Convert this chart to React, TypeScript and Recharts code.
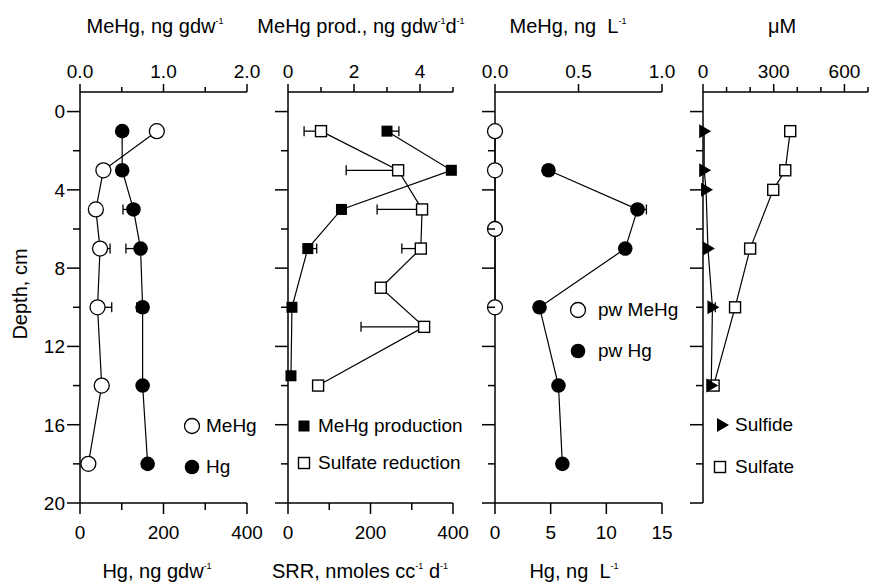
import React from "react";
import { ScatterChart, Scatter, XAxis, YAxis, ErrorBar } from "recharts";

const FONT = '"Liberation Sans", Arial, Helvetica, sans-serif';
const H = 585;

// depth axis (shared)
const depthTicks = [0, 2, 4, 6, 8, 10, 12, 14, 16, 18, 20];

// panel 1: sediment MeHg (top axis) / Hg (bottom axis)
const sedDepth = [1, 3, 5, 7, 10, 14, 18];
const sedMeHg = [0.92, 0.28, 0.19, 0.24, 0.21, 0.26, 0.1];
const sedMeHgErr = [null, null, null, [0, 0.12], [0, 0.17], null, null];
const sedHg = [101, 101, 128, 145, 150, 150, 162];
const sedHgErr = [null, null, [25, 0], [35, 0], [14, 0], null, null];

// panel 2: MeHg production (top) / sulfate reduction rate (bottom)
const prodDepth = [1, 3, 5, 7, 10, 13.5];
const prodVals = [3.0, 4.95, 1.62, 0.6, 0.12, 0.09];
const prodErr = [[0, 0.36], null, null, [0, 0.27], null, null];
const srrDepth = [1, 3, 5, 7, 9, 11, 14];
const srrVals = [80, 267, 325, 322, 225, 330, 73];
const srrErr = [[41, 0], [126, 0], [109, 0], [46, 0], null, [153, 0], null];

// panel 3: porewater MeHg (top) / Hg (bottom)
const pwMeDepth = [1, 3, 6, 10];
const pwMeVals = [0, 0, 0, 0];
const pwHgDepth = [3, 5, 7, 10, 14, 18];
const pwHgVals = [4.8, 12.8, 11.7, 4.0, 5.7, 6.05];
const pwHgErr = [null, [0, 0.8], null, null, null, null];

// panel 4: sulfide / sulfate, uM (top)
const sulfDepth = [1, 3, 4, 7, 10, 14];
const sulfideVals = [5, 5, 13, 21, 40, 35];
const sulfideErr = [null, null, null, null, [12, 12], null];
const sulfateVals = [370, 349, 298, 200, 136, 45];

// axis ticks
const p1TopTicks = [0, 0.5, 1, 1.5, 2];
const p1TopMajor = [0, 1, 2];
const sedBotTicks = [0, 100, 200, 300, 400];
const sedBotMajor = [0, 200, 400];
const p2TopTicks = [0, 1, 2, 3, 4, 5];
const p2TopMajor = [0, 2, 4];
const p3TopTicks = [0, 0.5, 1];
const p3BotTicks = [0, 5, 10, 15];
const p4TopTicks = [0, 100, 200, 300, 400, 500, 600, 700];
const p4TopMajor = [0, 300, 600];

const pts = (depth: number[], vals: number[], errs?: any[]) =>
  depth.map((d, i) => ({ d, x: vals[i], err: errs ? errs[i] : null }));

const txt = { fontFamily: FONT, fontSize: 19, fill: "#000" };
const axisLine = { stroke: "#000", strokeWidth: 1.5 };

const leftTick = (labels: boolean) => (p: any) => {
  const v = p.payload.value;
  const major = v % 4 === 0;
  const len = major ? 13 : 7;
  return (
    <g>
      <line x1={p.x - len} x2={p.x} y1={p.y} y2={p.y} stroke="#000" strokeWidth={1.5} />
      {labels && major && (
        <text x={p.x - 15} y={p.y} dy="0.36em" textAnchor="end" {...txt}>
          {v}
        </text>
      )}
    </g>
  );
};

const topTick = (major: number[], fmt: (v: number) => string) => (p: any) => {
  const v = p.payload.value;
  const isMajor = major.includes(v);
  const len = isMajor ? 8 : 5;
  return (
    <g>
      <line x1={p.x} x2={p.x} y1={p.y - len} y2={p.y} stroke="#000" strokeWidth={1.5} />
      {isMajor && (
        <text x={p.x} y={p.y - 14} textAnchor="middle" {...txt}>
          {fmt(v)}
        </text>
      )}
    </g>
  );
};

const botTick = (major: number[]) => (p: any) => {
  const v = p.payload.value;
  const isMajor = major.includes(v);
  const len = isMajor ? 11 : 7;
  return (
    <g>
      <line x1={p.x} x2={p.x} y1={p.y} y2={p.y + len} stroke="#000" strokeWidth={1.5} />
      {isMajor && (
        <text x={p.x} y={p.y + 36} textAnchor="middle" {...txt}>
          {v}
        </text>
      )}
    </g>
  );
};

// marker shapes
const OpenCircle = (p: any) => (
  <circle cx={p.cx} cy={p.cy} r={7.5} fill="#fff" stroke="#000" strokeWidth={1.3} />
);
const FilledCircle = (p: any) => <circle cx={p.cx} cy={p.cy} r={7.3} fill="#000" />;
const OpenSquare = (p: any) => (
  <rect x={p.cx - 5.5} y={p.cy - 5.5} width={11} height={11} fill="#fff" stroke="#000" strokeWidth={1.4} />
);
const FilledSquare = (p: any) => (
  <rect x={p.cx - 5.5} y={p.cy - 5.5} width={11} height={11} fill="#000" />
);
const Triangle = (p: any) => (
  <polygon
    points={`${p.cx - 5},${p.cy - 7} ${p.cx + 7},${p.cy} ${p.cx - 5},${p.cy + 7}`}
    fill="#000"
  />
);

const lineStyle = { stroke: "#000", strokeWidth: 1.2 };

function Series({ data, axis, shape }: { data: any[]; axis: string; shape: any }) {
  return (
    <Scatter
      data={data}
      xAxisId={axis}
      yAxisId="d"
      shape={shape}
      line={lineStyle}
      lineType="joint"
      isAnimationActive={false}
    >
      <ErrorBar dataKey="err" direction="x" width={5} stroke="#000" strokeWidth={1.3} />
    </Scatter>
  );
}

function DepthAxis({ width, labels }: { width: number; labels: boolean }) {
  return (
    <YAxis
      yAxisId="d"
      dataKey="d"
      type="number"
      domain={[-1, 20]}
      reversed
      ticks={depthTicks}
      interval={0}
      width={width}
      tickSize={0}
      tickMargin={0}
      tickLine={false}
      axisLine={axisLine}
      tick={leftTick(labels)}
    />
  );
}

const Sup = ({ children }: { children: React.ReactNode }) => (
  <span style={{ fontSize: 9, position: "relative", top: -9 }}>{children}</span>
);

function Title({ cx, top, children }: { cx: number; top: number; children: React.ReactNode }) {
  return (
    <div
      style={{
        position: "absolute",
        left: cx - 160,
        width: 320,
        top,
        textAlign: "center",
        fontSize: 20,
        lineHeight: "22px",
        whiteSpace: "pre",
      }}
    >
      {children}
    </div>
  );
}

function LegendItem({ mx, my, tx, label, Shape }: any) {
  return (
    <>
      <svg
        width={20}
        height={20}
        style={{ position: "absolute", left: mx - 10, top: my - 10, overflow: "visible" }}
      >
        <Shape cx={10} cy={10} />
      </svg>
      <div style={{ position: "absolute", left: tx, top: my - 11, fontSize: 19, lineHeight: "22px", whiteSpace: "nowrap" }}>
        {label}
      </div>
    </>
  );
}

const box = (left: number) => ({ position: "absolute" as const, left, top: 0 });

export default function App() {
  return (
    <div
      style={{
        position: "absolute",
        left: 0,
        top: 0,
        width: 871,
        height: H,
        background: "#fff",
        fontFamily: FONT,
        color: "#000",
        overflow: "hidden",
      }}
    >
      {/* panel 1 */}
      <div style={box(0)}>
        <ScatterChart width={267} height={H} margin={{ top: 0, right: 20, bottom: 0, left: 0 }}>
          <XAxis xAxisId="t" orientation="top" dataKey="x" type="number" domain={[0, 2]} ticks={p1TopTicks}
            interval={0} height={92} tickSize={0} tickMargin={0} tickLine={false} axisLine={axisLine}
            tick={topTick(p1TopMajor, (v) => v.toFixed(1))} />
          <XAxis xAxisId="b" orientation="bottom" dataKey="x" type="number" domain={[0, 400]} ticks={sedBotTicks}
            interval={0} height={82} tickSize={0} tickMargin={0} tickLine={false} axisLine={axisLine}
            tick={botTick(sedBotMajor)} />
          {DepthAxis({ width: 80, labels: true })}
          {Series({ data: pts(sedDepth, sedHg, sedHgErr), axis: "b", shape: FilledCircle })}
          {Series({ data: pts(sedDepth, sedMeHg, sedMeHgErr), axis: "t", shape: OpenCircle })}
        </ScatterChart>
      </div>

      {/* panel 2 */}
      <div style={box(258)}>
        <ScatterChart width={215} height={H} margin={{ top: 0, right: 20, bottom: 0, left: 0 }}>
          <XAxis xAxisId="t" orientation="top" dataKey="x" type="number" domain={[0, 5]} ticks={p2TopTicks}
            interval={0} height={92} tickSize={0} tickMargin={0} tickLine={false} axisLine={axisLine}
            tick={topTick(p2TopMajor, (v) => String(v))} />
          <XAxis xAxisId="b" orientation="bottom" dataKey="x" type="number" domain={[0, 400]} ticks={sedBotTicks}
            interval={0} height={82} tickSize={0} tickMargin={0} tickLine={false} axisLine={axisLine}
            tick={botTick(sedBotMajor)} />
          {DepthAxis({ width: 30, labels: false })}
          {Series({ data: pts(srrDepth, srrVals, srrErr), axis: "b", shape: OpenSquare })}
          {Series({ data: pts(prodDepth, prodVals, prodErr), axis: "t", shape: FilledSquare })}
        </ScatterChart>
      </div>

      {/* panel 3 */}
      <div style={box(465)}>
        <ScatterChart width={217} height={H} margin={{ top: 0, right: 20, bottom: 0, left: 0 }}>
          <XAxis xAxisId="t" orientation="top" dataKey="x" type="number" domain={[0, 1]} ticks={p3TopTicks}
            interval={0} height={92} tickSize={0} tickMargin={0} tickLine={false} axisLine={axisLine}
            tick={topTick(p3TopTicks, (v) => v.toFixed(1))} />
          <XAxis xAxisId="b" orientation="bottom" dataKey="x" type="number" domain={[0, 15]} ticks={p3BotTicks}
            interval={0} height={82} tickSize={0} tickMargin={0} tickLine={false} axisLine={axisLine}
            tick={botTick(p3BotTicks)} />
          {DepthAxis({ width: 30, labels: false })}
          {Series({ data: pts(pwHgDepth, pwHgVals, pwHgErr), axis: "b", shape: FilledCircle })}
          {Series({ data: pts(pwMeDepth, pwMeVals), axis: "t", shape: OpenCircle })}
        </ScatterChart>
      </div>

      {/* panel 4 */}
      <div style={box(673)}>
        <ScatterChart width={198} height={H} margin={{ top: 0, right: 3, bottom: 82, left: 0 }}>
          <XAxis xAxisId="t" orientation="top" dataKey="x" type="number" domain={[0, 700]} ticks={p4TopTicks}
            interval={0} height={92} tickSize={0} tickMargin={0} tickLine={false} axisLine={axisLine}
            tick={topTick(p4TopMajor, (v) => String(v))} />
          {DepthAxis({ width: 30, labels: false })}
          {Series({ data: pts(sulfDepth, sulfateVals), axis: "t", shape: OpenSquare })}
          {Series({ data: pts(sulfDepth, sulfideVals, sulfideErr), axis: "t", shape: Triangle })}
        </ScatterChart>
      </div>

      {/* axis titles */}
      <Title cx={155} top={15}>MeHg, ng gdw<Sup>-1</Sup></Title>
      <Title cx={361} top={15}>MeHg prod., ng gdw<Sup>-1</Sup>d<Sup>-1</Sup></Title>
      <Title cx={568} top={15}>MeHg, ng  L<Sup>-1</Sup></Title>
      <Title cx={782} top={15}>μM</Title>
      <Title cx={157} top={560}>Hg, ng gdw<Sup>-1</Sup></Title>
      <Title cx={360} top={560}>SRR, nmoles cc<Sup>-1</Sup> d<Sup>-1</Sup></Title>
      <Title cx={574} top={560}>Hg, ng  L<Sup>-1</Sup></Title>
      <div
        style={{
          position: "absolute",
          left: 20 - 70,
          top: 294 - 11,
          width: 140,
          textAlign: "center",
          fontSize: 20,
          lineHeight: "22px",
          transform: "rotate(-90deg)",
        }}
      >
        Depth, cm
      </div>

      {/* legends */}
      <LegendItem mx={192} my={426} tx={206} label="MeHg" Shape={OpenCircle} />
      <LegendItem mx={192} my={467} tx={206} label="Hg" Shape={FilledCircle} />
      <LegendItem mx={304} my={426} tx={318} label="MeHg production" Shape={FilledSquare} />
      <LegendItem mx={304} my={463} tx={318} label="Sulfate reduction" Shape={OpenSquare} />
      <LegendItem mx={578} my={310} tx={598} label="pw MeHg" Shape={OpenCircle} />
      <LegendItem mx={578} my={351} tx={598} label="pw Hg" Shape={FilledCircle} />
      <LegendItem mx={722} my={425} tx={735} label="Sulfide" Shape={Triangle} />
      <LegendItem mx={720} my={467} tx={735} label="Sulfate" Shape={OpenSquare} />
    </div>
  );
}
